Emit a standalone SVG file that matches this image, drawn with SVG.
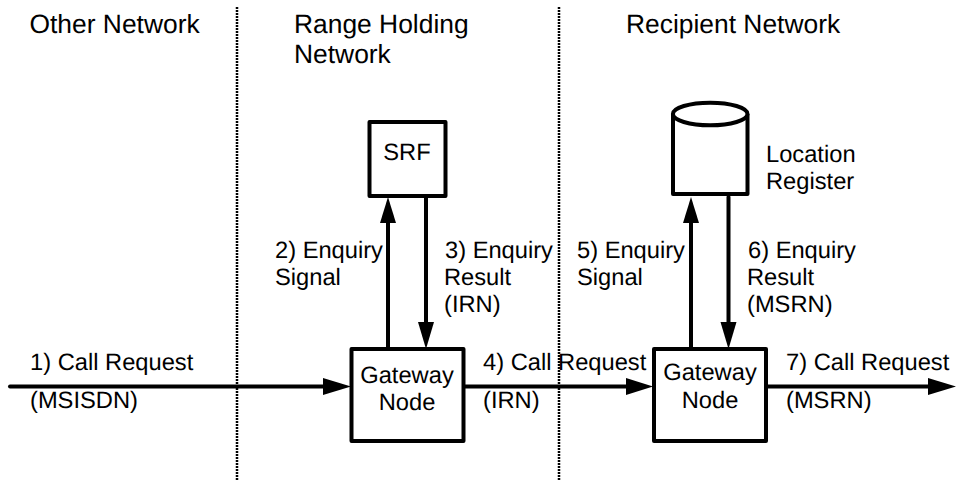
<svg xmlns="http://www.w3.org/2000/svg" width="956" height="482" viewBox="0 0 956 482">
<style>
text{font-family:"Liberation Sans",Arial,sans-serif;font-size:23.7px;fill:#000;text-rendering:geometricPrecision}
.c{text-anchor:middle}
.t{font-size:26.400px}
.b{fill:#fff;stroke:#000;stroke-width:4;stroke-linejoin:round}
.l{fill:none;stroke:#000;stroke-width:4;stroke-linecap:round}
.d{fill:none;stroke:#000;stroke-width:2.500;stroke-dasharray:2 1}
.a{fill:#000}
</style>
<rect width="956" height="482" fill="#fff"/>
<g id="boundaries">
<line class="d" x1="237" y1="7" x2="237" y2="480"/>
<line class="d" x1="559" y1="7" x2="559" y2="480"/>
</g>
<g id="connectors">
<line class="l" x1="10" y1="386.500" x2="326" y2="386.500"/><polygon class="a" points="323,378 323,395 351,386.500"/>
<line class="l" x1="465" y1="386.500" x2="628" y2="386.500"/><polygon class="a" points="626,378 626,395 653,386.500"/>
<line class="l" x1="767" y1="386.500" x2="930" y2="386.500"/><polygon class="a" points="928,378 928,395 956,386.500"/>
<line class="l" x1="388" y1="349" x2="388" y2="222"/><polygon class="a" points="380,223 396,223 388,197"/>
<line class="l" x1="426" y1="197" x2="426" y2="324"/><polygon class="a" points="418,322 434,322 426,349"/>
<line class="l" x1="691" y1="349" x2="691" y2="222"/><polygon class="a" points="683,223 699,223 691,197"/>
<line class="l" x1="728.500" y1="197" x2="728.500" y2="324"/><polygon class="a" points="720.500,322 736.500,322 728.500,349"/>
</g>
<g id="srf"><rect class="b" x="369.500" y="122" width="76" height="74"/><text class="c" x="407" y="160">SRF</text></g>
<g id="gateway1"><rect class="b" x="351.500" y="349" width="112" height="92"/><text class="c" x="407" y="383">Gateway</text><text class="c" x="407" y="410">Node</text></g>
<g id="gateway2"><rect class="b" x="654" y="349" width="112" height="92"/><text class="c" x="710" y="380">Gateway</text><text class="c" x="710" y="408">Node</text></g>
<g id="location-register"><path class="b" d="M673 114V194H747.500V114"/><ellipse class="b" cx="710.200" cy="114" rx="37.300" ry="11.300"/><text x="766" y="162">Location</text><text x="766" y="189">Register</text></g>
<g id="labels">
<text class="t" x="29.500" y="33">Other Network</text>
<text class="t" x="294" y="33">Range Holding</text>
<text class="t" x="294" y="62.500">Network</text>
<text class="t" x="626" y="33">Recipient Network</text>
<text x="275" y="258">2) Enquiry</text><text x="275" y="285">Signal</text>
<text x="445" y="258">3) Enquiry</text><text x="444" y="285">Result</text><text x="444" y="312">(IRN)</text>
<text x="577" y="258">5) Enquiry</text><text x="577" y="285">Signal</text>
<text x="748" y="258">6) Enquiry</text><text x="747" y="285">Result</text><text x="747" y="312">(MSRN)</text>
<text x="30" y="370">1) Call Request</text><text x="30" y="408">(MSISDN)</text>
<text x="483" y="370">4) Call Request</text><text x="483" y="408">(IRN)</text>
<text x="786" y="370">7) Call Request</text><text x="786" y="408">(MSRN)</text>
</g>
</svg>
